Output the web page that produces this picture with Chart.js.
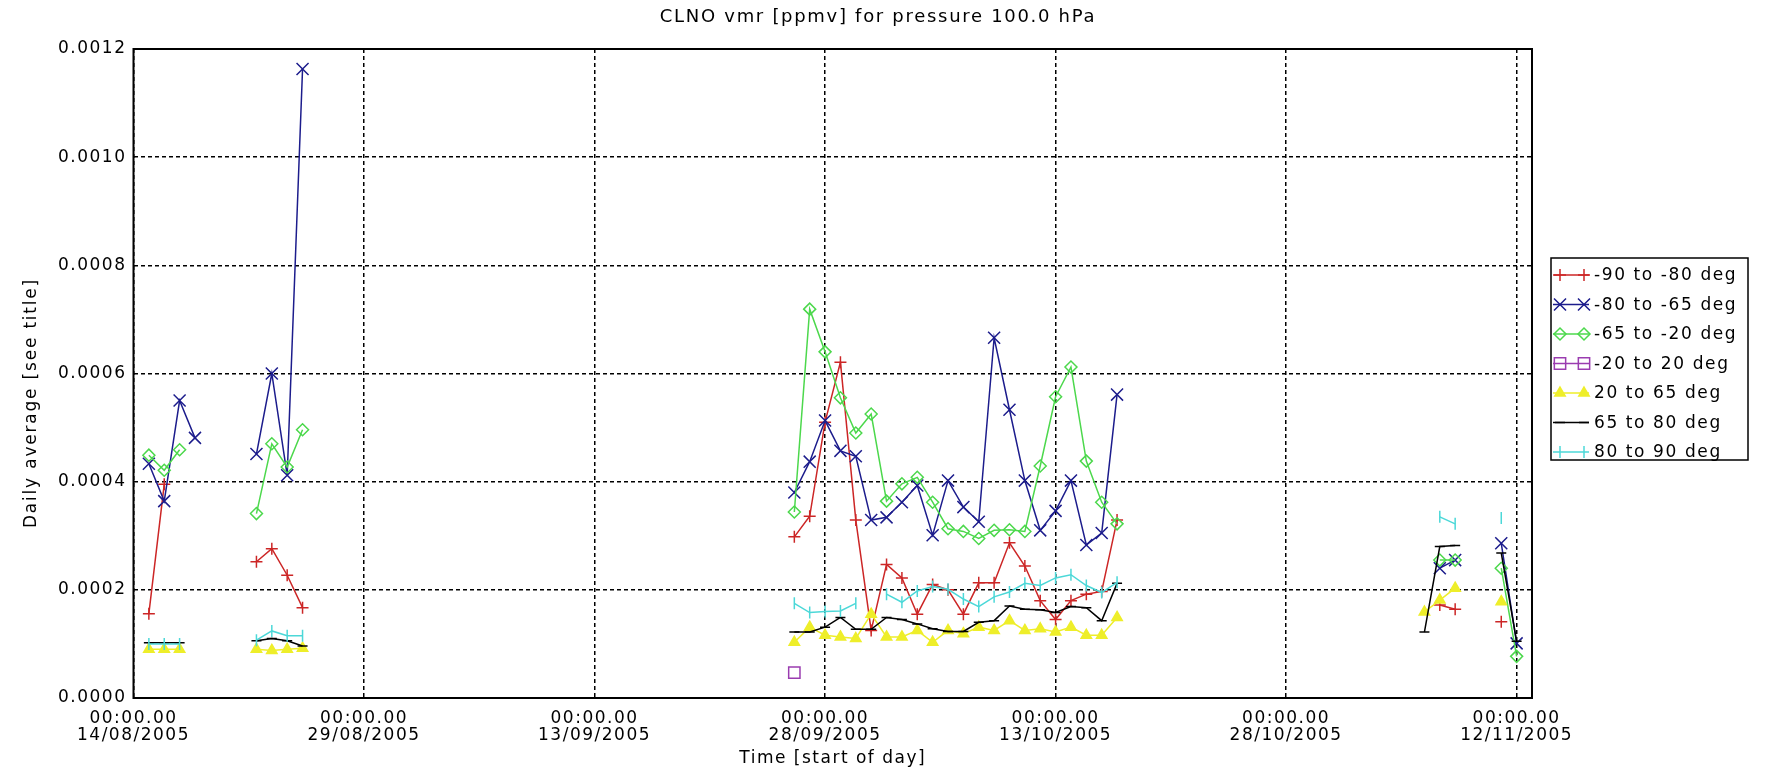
<!DOCTYPE html>
<html>
<head>
<meta charset="utf-8">
<script src="https://cdn.jsdelivr.net/npm/chart.js@4.4.1/dist/chart.umd.min.js"></script>
<style>
html,body{margin:0;padding:0;background:#fff;}
#wrap{width:1785px;height:784px;position:relative;}
</style>
</head>
<body>
<div id="wrap"><canvas id="c"></canvas></div>
<script>
// ---------------- text ----------------
const chartTitle = 'CLNO vmr [ppmv] for pressure 100.0 hPa';
const xAxisTitle = 'Time [start of day]';
const yAxisTitle = 'Daily average [see title]';

// ---------------- axes (x = days since 14/08/2005 00:00) ----------------
const xTickDays = [0, 15, 30, 45, 60, 75, 90];
const xTickLabels = [
  ['00:00.00', '14/08/2005'],
  ['00:00.00', '29/08/2005'],
  ['00:00.00', '13/09/2005'],
  ['00:00.00', '28/09/2005'],
  ['00:00.00', '13/10/2005'],
  ['00:00.00', '28/10/2005'],
  ['00:00.00', '12/11/2005']
];
const yTickValues = [0, 0.0002, 0.0004, 0.0006, 0.0008, 0.0010, 0.0012];
const yTickLabels = ['0.0000', '0.0002', '0.0004', '0.0006', '0.0008', '0.0010', '0.0012'];

// ---------------- data ----------------
const seriesNames = ['-90 to -80 deg', '-80 to -65 deg', '-65 to -20 deg', '-20 to 20 deg',
                     '20 to 65 deg', '65 to 80 deg', '80 to 90 deg'];

const days = [1, 2, 3, 4,
              8, 9, 10, 11,
              43, 44, 45, 46, 47, 48, 49, 50, 51, 52, 53, 54, 55, 56, 57, 58, 59, 60, 61, 62, 63, 64,
              84, 85, 86,
              89, 90];

const lat90to80 = [0.000156, 0.000395, null, null,
  0.000252, 0.000276, 0.000227, 0.000167,
  0.000298, 0.000336, 0.000510, 0.000621, 0.000329, 0.000125, 0.000247, 0.000222, 0.000155, 0.000210, 0.000200,
  0.000155, 0.000213, 0.000213, 0.000287, 0.000244, 0.000180, 0.000145, 0.000180, 0.000192, 0.000197, 0.000329,
  null, 0.000172, 0.000164,
  0.000141, null];

const lat80to65 = [0.000433, 0.000364, 0.000550, 0.000481,
  0.000451, 0.000600, 0.000412, 0.001163,
  0.000380, 0.000437, 0.000513, 0.000457, 0.000447, 0.000329, 0.000334, 0.000362, 0.000393, 0.000301, 0.000402,
  0.000353, 0.000326, 0.000666, 0.000533, 0.000402, 0.000310, 0.000346, 0.000402, 0.000283, 0.000305, 0.000561,
  null, 0.000240, 0.000255,
  0.000286, 0.000101];

const lat65to20 = [0.000449, 0.000421, 0.000459, null,
  0.000341, 0.000470, 0.000427, 0.000496,
  0.000344, 0.000719, 0.000640, 0.000555, 0.000490, 0.000525, 0.000364, 0.000396, 0.000408, 0.000362, 0.000313,
  0.000308, 0.000295, 0.000310, 0.000311, 0.000308, 0.000429, 0.000557, 0.000612, 0.000438, 0.000362, 0.000322,
  null, 0.000255, 0.000255,
  0.000240, 0.000077];

const lat20to20 = [null, null, null, null,
  null, null, null, null,
  0.000047, null, null, null, null, null, null, null, null, null, null,
  null, null, null, null, null, null, null, null, null, null, null,
  null, null, null,
  null, null];

const lat20to65 = [0.000090, 0.000090, 0.000090, null,
  0.000090, 0.000088, 0.000090, 0.000092,
  0.000103, 0.000131, 0.000116, 0.000113, 0.000110, 0.000155, 0.000113, 0.000113, 0.000125, 0.000103, 0.000125,
  0.000119, 0.000131, 0.000125, 0.000143, 0.000125, 0.000128, 0.000122, 0.000131, 0.000116, 0.000116, 0.000149,
  0.000159, 0.000181, 0.000203,
  0.000178, null];

const lat65to80 = [0.000102, 0.000102, 0.000102, null,
  0.000106, 0.000110, 0.000106, 0.000096,
  0.000122, 0.000122, 0.000131, 0.000149, 0.000127, 0.000127, 0.000149, 0.000145, 0.000137, 0.000128, 0.000123,
  0.000123, 0.000140, 0.000143, 0.000170, 0.000164, 0.000163, 0.000158, 0.000169, 0.000167, 0.000143, 0.000212,
  0.000122, 0.000280, 0.000282,
  0.000268, 0.000105];

const lat80to90 = [0.000100, 0.000100, 0.000100, null,
  0.000107, 0.000124, 0.000115, 0.000115,
  0.000175, 0.000158, 0.000160, 0.000161, 0.000175, null, 0.000192, 0.000177, 0.000198, 0.000206, 0.000201,
  0.000183, 0.000169, 0.000187, 0.000196, 0.000212, 0.000208, 0.000222, 0.000228, 0.000208, 0.000195, 0.000214,
  null, 0.000335, 0.000322,
  0.000333, null];

// ---------------- styling ----------------
const FONT = 'DejaVu Sans';
const styles = [
  {color: '#cc2626', pointStyle: 'cross',    rotation: 0,  radius: 6,   fill: false},
  {color: '#1c1c8c', pointStyle: 'crossRot', rotation: 0,  radius: 8.5, fill: false},
  {color: '#4cd84c', pointStyle: 'rectRot',  rotation: 0,  radius: 6,   fill: false},
  {color: '#9a3cb0', pointStyle: 'rect',     rotation: 0,  radius: 8,   fill: false},
  {color: '#eeee2a', pointStyle: 'triangle', rotation: 0,  radius: 6,   fill: true},
  {color: '#000000', pointStyle: 'line',     rotation: 0,  radius: 5,   fill: false},
  {color: '#4cd8d8', pointStyle: 'line',     rotation: 90, radius: 6,   fill: false}
];
const seriesValues = [lat90to80, lat80to65, lat65to20, lat20to20, lat20to65, lat65to80, lat80to90];

function toPoints(vals) {
  const pts = [];
  for (let i = 0; i < days.length; i++) {
    pts.push({x: days[i], y: vals[i]});
    if (i < days.length - 1 && days[i + 1] - days[i] > 1) {
      pts.push({x: days[i] + 0.5, y: null}); // break line between separate runs
    }
  }
  return pts;
}

const datasets = seriesValues.map((vals, i) => ({
  label: seriesNames[i],
  data: toPoints(vals),
  borderColor: styles[i].color,
  backgroundColor: styles[i].color,
  borderWidth: 1.5,
  pointStyle: styles[i].pointStyle,
  pointRotation: styles[i].rotation,
  pointRadius: styles[i].radius,
  pointBorderWidth: 1.5,
  pointBorderColor: styles[i].color,
  pointBackgroundColor: styles[i].fill ? styles[i].color : 'rgba(0,0,0,0)',
  spanGaps: false,
  tension: 0,
  order: seriesValues.length - i
}));

const LETTER = '1.5px';

const textPlugin = {
  id: 'idlText',
  beforeLayout(chart) { chart.ctx.letterSpacing = LETTER; },
  beforeDraw(chart) {
    const ctx = chart.ctx;
    ctx.letterSpacing = LETTER;
    ctx.save();
    ctx.fillStyle = '#fff';
    ctx.fillRect(0, 0, chart.width, chart.height);
    ctx.restore();
  },
  beforeDatasetsDraw(chart) {
    const ctx = chart.ctx;
    const a = chart.chartArea;
    ctx.save();
    ctx.strokeStyle = '#000';
    ctx.lineWidth = 2;
    ctx.setLineDash([]);
    ctx.strokeRect(a.left, a.top, a.right - a.left, a.bottom - a.top);
    ctx.restore();
  },
  afterDraw(chart) {
    const ctx = chart.ctx;
    ctx.save();
    ctx.fillStyle = '#000';
    // title
    ctx.letterSpacing = '1.7px';
    ctx.font = '18px "' + FONT + '"';
    ctx.textAlign = 'center';
    ctx.textBaseline = 'middle';
    ctx.fillText(chartTitle, 878, 17);
    // y axis title
    ctx.save();
    ctx.letterSpacing = '1.8px';
    ctx.translate(32, 403);
    ctx.rotate(-Math.PI / 2);
    ctx.font = '17px "' + FONT + '"';
    ctx.fillText(yAxisTitle, 0, 0);
    ctx.restore();

    // legend box
    const bx = 1551, by = 258, bw = 197, bh = 202;
    ctx.strokeStyle = '#000';
    ctx.lineWidth = 1.5;
    ctx.strokeRect(bx, by, bw, bh);
    chart.data.datasets.forEach((ds, i) => {
      const y = 275 + i * 29.5;
      ctx.save();
      ctx.strokeStyle = ds.borderColor;
      ctx.lineWidth = 1.5;
      ctx.beginPath();
      ctx.moveTo(1553, y);
      ctx.lineTo(1589, y);
      ctx.stroke();
      ctx.fillStyle = ds.pointBackgroundColor;
      ctx.strokeStyle = ds.borderColor;
      [1560, 1584].forEach(px => {
        Chart.helpers.drawPoint(ctx, {
          pointStyle: ds.pointStyle, rotation: ds.pointRotation,
          radius: ds.pointRadius, borderWidth: 1.5
        }, px, y);
      });
      ctx.restore();
      ctx.letterSpacing = '1.6px';
      ctx.font = '17px "' + FONT + '"';
      ctx.fillStyle = '#000';
      ctx.textAlign = 'left';
      ctx.textBaseline = 'middle';
      ctx.fillText(ds.label, 1594, y + 1);
    });
    ctx.restore();
  }
};

new Chart(document.getElementById('c'), {
  type: 'line',
  data: {datasets},
  plugins: [textPlugin],
  options: {
    responsive: true,
    maintainAspectRatio: false,
    animation: false,
    events: [],
    layout: {padding: {left: 0, top: 49, right: 253, bottom: 0}},
    plugins: {
      legend: {display: false},
      tooltip: {enabled: false},
      title: {display: false}
    },
    scales: {
      x: {
        type: 'linear',
        min: 0,
        max: 91.0,
        afterBuildTicks(scale) { scale.ticks = xTickDays.map(v => ({value: v})); },
        afterFit(scale) { scale.height = 86; },
        ticks: {
          autoSkip: false,
          maxRotation: 0,
          padding: 12,
          color: '#000',
          font: {family: FONT, size: 17, lineHeight: 1.0},
          callback: (v, i) => xTickLabels[i]
        },
        grid: {color: '#000', lineWidth: 1.5, drawTicks: false},
        border: {display: false, dash: [4, 3]},
        title: {
          display: true,
          text: xAxisTitle,
          color: '#000',
          font: {family: FONT, size: 17},
          padding: {top: 0, bottom: 15}
        }
      },
      y: {
        min: 0,
        max: 0.0012,
        afterBuildTicks(scale) { scale.ticks = yTickValues.map(v => ({value: v})); },
        afterFit(scale) { scale.width = 133.5; },
        ticks: {
          padding: 7,
          color: '#000',
          font: {family: FONT, size: 17},
          callback: (v, i) => yTickLabels[i]
        },
        grid: {color: '#000', lineWidth: 1.5, drawTicks: false},
        border: {display: false, dash: [4, 3]}
      }
    }
  }
});
</script>
</body>
</html>
